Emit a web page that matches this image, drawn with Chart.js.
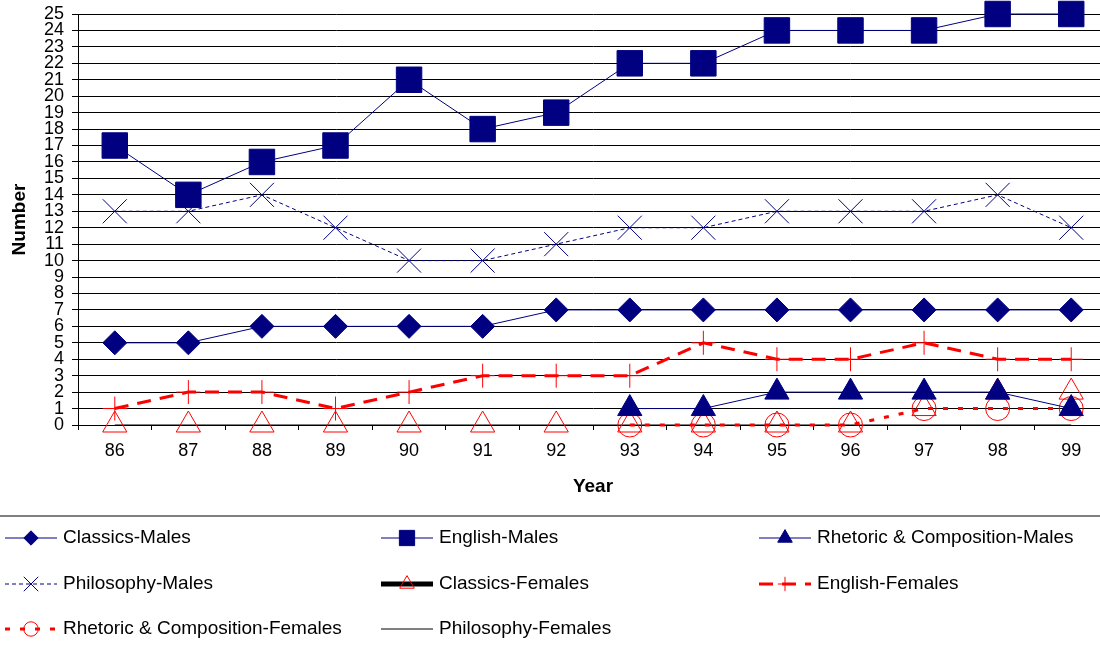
<!DOCTYPE html>
<html>
<head>
<meta charset="utf-8">
<script src="https://cdn.jsdelivr.net/npm/chart.js@4/dist/chart.umd.min.js"></script>
<style>
  html, body { margin: 0; padding: 0; background: #fff; overflow: hidden; }
</style>
</head>
<body>
<canvas id="degreeChart" width="1108" height="649"></canvas>
<script>
// values
var years = ['86', '87', '88', '89', '90', '91', '92', '93', '94', '95', '96', '97', '98', '99'];
var classicsMales = [5, 5, 6, 6, 6, 6, 7, 7, 7, 7, 7, 7, 7, 7];
var englishMales = [17, 14, 16, 17, 21, 18, 19, 22, 22, 24, 24, 24, 25, 25];
var rhetoricMales = [null, null, null, null, null, null, null, 1, 1, 2, 2, 2, 2, 1];
var philosophyMales = [13, 13, 14, 12, 10, 10, 11, 12, 12, 13, 13, 13, 14, 12];
var classicsFemales = [0, 0, 0, 0, 0, 0, 0, 0, 0, 0, 0, 1, 2, 2];
var englishFemales = [1, 2, 2, 1, 2, 3, 3, 3, 5, 4, 4, 5, 4, 4];
var rhetoricFemales = [null, null, null, null, null, null, null, 0, 0, 0, 0, 1, 1, 1];
var philosophyFemales = [0, 0, 0, 0, 0, 0, 0, 0, 0, 0, 0, 0, 0, 0];

var navy = '#000080';
var red = '#ff0000';
var fontFamily = '"Liberation Sans", Arial, sans-serif';

Chart.defaults.font.family = fontFamily;
Chart.defaults.font.size = 18;
Chart.defaults.color = '#000';

function series(label, data, o) {
	return Object.assign({
		label: label,
		data: data,
		clip: false,
		spanGaps: false,
		tension: 0,
		fill: false,
		borderWidth: 1,
		pointBorderWidth: 1,
		pointHoverRadius: 0
	}, o);
}

var datasets = [
	series('Classics-Males', classicsMales, {
		borderColor: navy, pointStyle: 'rectRot', pointRadius: 12,
		pointBackgroundColor: navy, pointBorderColor: navy
	}),
	series('English-Males', englishMales, {
		borderColor: navy, pointStyle: 'rect', pointRadius: 18,
		pointBackgroundColor: navy, pointBorderColor: navy
	}),
	series('Rhetoric & Composition-Males', rhetoricMales, {
		borderColor: navy, pointStyle: 'triangle', pointRadius: 14,
		pointBackgroundColor: navy, pointBorderColor: navy
	}),
	series('Philosophy-Males', philosophyMales, {
		borderColor: navy, borderDash: [4, 3], pointStyle: 'crossRot', pointRadius: 17,
		pointBackgroundColor: navy, pointBorderColor: navy
	}),
	series('Classics-Females', classicsFemales, {
		borderColor: '#000', borderWidth: 5, showLine: false, pointStyle: 'triangle', pointRadius: 14,
		pointBackgroundColor: 'rgba(0,0,0,0)', pointBorderColor: red
	}),
	series('English-Females', englishFemales, {
		borderColor: red, borderWidth: 3, borderDash: [14, 9], pointStyle: 'cross', pointRadius: 12,
		pointBackgroundColor: red, pointBorderColor: red
	}),
	series('Rhetoric & Composition-Females', rhetoricFemales, {
		borderColor: red, borderWidth: 3, borderDash: [5, 10], pointStyle: 'circle', pointRadius: 12,
		pointBackgroundColor: 'rgba(0,0,0,0)', pointBorderColor: red
	}),
	series('Philosophy-Females', philosophyFemales, {
		borderColor: '#000', borderWidth: 1, pointRadius: 0
	})
];

// legend drawn below the plot in three columns, like the original
var legendBox = {
	id: 'legendBox',
	afterDraw: function(chart) {
		var ctx = chart.ctx;
		var cols = [5, 381, 759];
		var rows = [538, 584, 629];
		ctx.save();
		ctx.strokeStyle = '#808080';
		ctx.lineWidth = 2;
		ctx.beginPath();
		ctx.moveTo(0, 516);
		ctx.lineTo(1100, 516);
		ctx.stroke();

		chart.data.datasets.forEach(function(ds, i) {
			var x = cols[i % 3];
			var y = rows[Math.floor(i / 3)];
			ctx.save();
			ctx.strokeStyle = ds.borderColor;
			ctx.lineWidth = ds.borderWidth;
			ctx.setLineDash(ds.borderDash || []);
			ctx.beginPath();
			ctx.moveTo(x, y);
			ctx.lineTo(x + 52, y);
			ctx.stroke();
			ctx.setLineDash([]);
			if (ds.pointRadius > 0) {
				ctx.fillStyle = ds.pointBackgroundColor;
				ctx.strokeStyle = ds.pointBorderColor;
				ctx.lineWidth = 1;
				Chart.helpers.drawPoint(ctx, {
					pointStyle: ds.pointStyle,
					radius: ds.pointRadius * 0.6,
					rotation: 0,
					borderWidth: 1
				}, x + 26, y);
			}
			ctx.restore();
			ctx.fillStyle = '#000';
			ctx.font = '19px ' + fontFamily;
			ctx.textAlign = 'left';
			ctx.textBaseline = 'middle';
			ctx.fillText(ds.label, x + 58, y);
		});
		ctx.restore();
	}
};

var ctx = document.getElementById('degreeChart');
var lineChart = new Chart(ctx, {
	type: 'line',
	data: { labels: years, datasets: datasets },
	options: {
		responsive: false,
		animation: false,
		events: [],
		layout: { autoPadding: false, padding: { top: 14, right: 0, bottom: 149, left: 0 } },
		plugins: {
			legend: { display: false },
			tooltip: { enabled: false }
		},
		scales: {
			x: {
				offset: true,
				grid: { display: true, drawOnChartArea: false, drawTicks: true, tickLength: 5, offset: true, color: '#000' },
				border: { color: '#000', width: 1 },
				ticks: { font: { size: 18 }, padding: 10, maxRotation: 0 },
				title: { display: true, text: 'Year', font: { size: 19, weight: 'bold' }, padding: { top: 10, bottom: 2 } },
				afterFit: function(scale) {
					scale.height = 75;
					scale.paddingLeft = 0;
					scale.paddingRight = 0;
				}
			},
			y: {
				min: 0,
				max: 25,
				grid: { color: '#000', lineWidth: 1, tickLength: 6 },
				border: { color: '#000', width: 1 },
				ticks: { stepSize: 1, autoSkip: false, font: { size: 18 }, padding: 8 },
				title: { display: true, text: 'Number', font: { size: 19, weight: 'bold' }, padding: { top: 8, bottom: 0 } },
				afterFit: function(scale) {
					scale.width = 78;
					scale.paddingTop = 0;
				}
			}
		}
	},
	plugins: [legendBox]
});
</script>
</body>
</html>
